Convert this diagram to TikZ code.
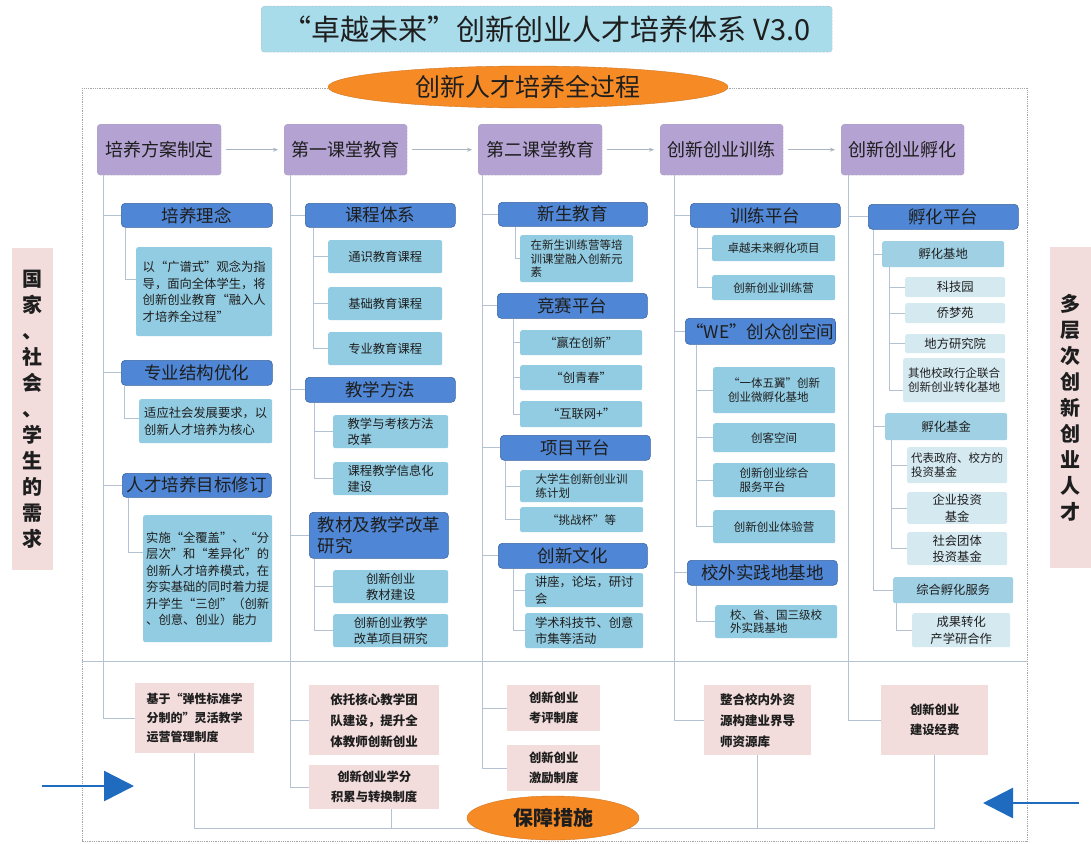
\documentclass[tikz,border=0pt]{standalone}
\usepackage{fontspec}
\setmainfont{Noto Sans CJK SC}
\usetikzlibrary{arrows.meta,shapes.geometric}
\definecolor{titleC}{HTML}{A8DCEB}
\definecolor{orangeC}{HTML}{F68B26}
\definecolor{purpleC}{HTML}{B3A2D2}
\definecolor{blueH}{HTML}{4F87D6}
\definecolor{lightB}{HTML}{92CCE2}
\definecolor{midB}{HTML}{9FD0E4}
\definecolor{paleB}{HTML}{D5E9F1}
\definecolor{pinkC}{HTML}{F2DCDC}
\definecolor{lineC}{HTML}{B4C2D3}
\definecolor{arrowB}{HTML}{1E6BC0}
\definecolor{txtC}{HTML}{1E1E1E}
\tikzset{
  conn/.style={draw=lineC, line width=0.9pt},
  parr/.style={draw=lineC!80!gray, line width=0.9pt, -{Stealth[length=5pt,width=4pt]}, shorten <=5pt, shorten >=6pt},
  titlebox/.style={fill=titleC, draw=gray!70, densely dotted, rounded corners=3pt, font=\fontsize{29}{32}\selectfont, text=txtC, inner sep=0pt},
  ellbox/.style={ellipse, fill=orangeC, draw=orangeC!85!black, inner sep=0pt, text=txtC},
  hdr/.style={fill=purpleC, draw=gray!70, densely dotted, rounded corners=3pt, font=\fontsize{18}{22}\selectfont, text=txtC, inner sep=1pt},
  bh/.style={fill=blueH, draw=blueH!75!black, line width=0.6pt, rounded corners=4pt, font=\fontsize{17.5}{21}\selectfont, text=txtC, inner sep=1pt, align=left},
  sb/.style={fill=lightB, rounded corners=2pt, font=\fontsize{12.3}{16.5}\selectfont, text=txtC, inner sep=2pt, align=left},
  sbs/.style={sb, font=\fontsize{11.5}{13.5}\selectfont},
  mb/.style={sb, fill=midB},
  pb/.style={sb, fill=paleB},
  pk/.style={fill=pinkC, font=\bfseries\fontsize{12.3}{20}\selectfont, text=txtC, inner sep=2pt, align=center},
  pkl/.style={pk, align=left},
  side/.style={fill=pinkC, font=\bfseries\fontsize{20}{26}\selectfont, text=txtC, inner sep=0pt, align=center},
  barrow/.style={draw=arrowB, line width=2.6pt, -{Triangle[length=30pt,width=30pt]}},
}
\newcommand\mkbox[7]{\node[#2,anchor=north west,minimum width={(#5-#3)*1pt},minimum height={(#6-#4)*1pt}] (#1) at (#3pt,-#4pt) {#7};}
\begin{document}
\begin{tikzpicture}[x=1pt,y=1pt]
\useasboundingbox (0,0) rectangle (1091,-843);
\fill[white] (0,0) rectangle (1091,-843);
% frame and divider
\draw[gray!70, densely dotted, line width=0.8pt] (82,-88) rectangle (1027,-841);
\draw[conn] (82,-661) -- (1027,-661);
% title
\mkbox{title}{titlebox}{261}{6}{832}{52}{“卓越未来”创新创业人才培养体系 V3.0}
\node[ellbox, minimum width=400pt, minimum height=42pt, font=\fontsize{25}{28}\selectfont] (proc) at (528,-87) {创新人才培养全过程};
% side boxes
\mkbox{left}{side}{12}{248}{53}{570}{国\\家\\、\\社\\会\\、\\学\\生\\的\\需\\求}
\mkbox{right}{side}{1050}{247}{1091}{568}{多\\层\\次\\创\\新\\创\\业\\人\\才}
% stage headers
\mkbox{h1}{hdr}{97}{124}{221}{175}{培养方案制定}
\mkbox{h2}{hdr}{284}{124}{407}{175}{第一课堂教育}
\mkbox{h3}{hdr}{478}{124}{602}{175}{第二课堂教育}
\mkbox{h4}{hdr}{660}{124}{783}{175}{创新创业训练}
\mkbox{h5}{hdr}{841}{124}{964}{175}{创新创业孵化}
\draw[parr] (h1.east) -- (h2.west);
\draw[parr] (h2.east) -- (h3.west);
\draw[parr] (h3.east) -- (h4.west);
\draw[parr] (h4.east) -- (h5.west);
\coordinate (s1) at (103,-175);
\coordinate (s2) at (290,-175);
\coordinate (s3) at (482,-175);
\coordinate (s4) at (674,-175);
\coordinate (s5) at (848,-175);
% column 1
\mkbox{bl1}{bh}{121}{203}{272}{227}{培养理念}
\mkbox{d1}{sb}{136}{247}{272}{336}{以“广谱式”观念为指\\导，面向全体学生，将\\创新创业教育“融入人\\才培养全过程”}
\mkbox{bl2}{bh}{121}{360}{272}{385}{专业结构优化}
\mkbox{d2}{sb}{139}{399}{272}{443}{适应社会发展要求，以\\创新人才培养为核心}
\mkbox{bl3}{bh}{122}{473}{271}{497}{人才培养目标修订}
\mkbox{d3}{sb}{143}{515}{272}{642}{实施“全覆盖”、“分\\层次”和“差异化”的\\创新人才培养模式，在\\夯实基础的同时着力提\\升学生“三创”（创新\\、创意、创业）能力}
% column 2
\mkbox{bl4}{bh}{305}{203}{455}{227}{课程体系}
\mkbox{c1}{sb}{328}{240}{442}{273}{通识教育课程}
\mkbox{c2}{sb}{328}{287}{442}{320}{基础教育课程}
\mkbox{c3}{sb}{328}{332}{442}{365}{专业教育课程}
\mkbox{bl5}{bh}{305}{377}{455}{402}{教学方法}
\mkbox{c4}{sb}{333}{415}{448}{448}{教学与考核方法\\改革}
\mkbox{c5}{sb}{333}{462}{448}{495}{课程教学信息化\\建设}
\mkbox{bl6}{bh}{309}{512}{448}{558}{教材及教学改革\\研究}
\mkbox{c6}{sb}{333}{570}{448}{603}{创新创业\\教材建设}
\mkbox{c7}{sb}{333}{614}{448}{647}{创新创业教学\\改革项目研究}
% column 3
\mkbox{bl7}{bh}{498}{202}{647}{226}{新生教育}
\mkbox{e1}{sbs}{520}{235}{633}{282}{在新生训练营等培\\训课堂融入创新元\\素}
\mkbox{bl8}{bh}{497}{293}{647}{318}{竞赛平台}
\mkbox{e2}{sb}{520}{330}{642}{355}{“赢在创新”}
\mkbox{e3}{sb}{520}{365}{642}{390}{“创青春”}
\mkbox{e4}{sb}{520}{401}{642}{427}{“互联网+”}
\mkbox{bl9}{bh}{500}{435}{650}{460}{项目平台}
\mkbox{e5}{sbs}{520}{470}{643}{502}{大学生创新创业训\\练计划}
\mkbox{e6}{sbs}{520}{507}{643}{532}{“挑战杯”等}
\mkbox{bl10}{bh}{498}{543}{647}{568}{创新文化}
\mkbox{e7}{sb}{525}{573}{643}{607}{讲座，论坛，研讨\\会}
\mkbox{e8}{sb}{525}{613}{643}{648}{学术科技节、创意\\市集等活动}
% column 4
\mkbox{bl11}{bh}{690}{203}{840}{227}{训练平台}
\mkbox{f1}{sbs}{712}{235}{835}{261}{卓越未来孵化项目}
\mkbox{f2}{sbs}{712}{275}{835}{300}{创新创业训练营}
\mkbox{bl12}{bh}{685}{318}{835}{344}{“WE”创众创空间}
\mkbox{f3}{sbs}{713}{367}{835}{413}{“一体五翼”创新\\创业微孵化基地}
\mkbox{f4}{sbs}{713}{423}{835}{452}{创客空间}
\mkbox{f5}{sbs}{713}{463}{835}{497}{创新创业综合\\服务平台}
\mkbox{f6}{sbs}{713}{510}{835}{543}{创新创业体验营}
\mkbox{bl13}{bh}{687}{560}{837}{585}{校外实践地基地}
\mkbox{f7}{sbs}{715}{605}{837}{638}{校、省、国三级校\\外实践基地}
% column 5
\mkbox{bl14}{bh}{868}{204}{1018}{229}{孵化平台}
\mkbox{g1}{mb}{882}{241}{1004}{267}{孵化基地}
\mkbox{g2}{pb}{905}{277}{1005}{297}{科技园}
\mkbox{g3}{pb}{905}{303}{1005}{323}{侨梦苑}
\mkbox{g4}{pb}{905}{334}{1005}{353}{地方研究院}
\mkbox{g5}{pb, font=\fontsize{11.5}{13.5}\selectfont}{903}{358}{1005}{402}{其他校政行企联合\\创新创业转化基地}
\mkbox{g6}{mb}{885}{413}{1007}{440}{孵化基金}
\mkbox{g7}{pb, font=\fontsize{11.5}{13.5}\selectfont}{907}{447}{1007}{483}{代表政府、校方的\\投资基金}
\mkbox{g8}{pb, align=center}{907}{492}{1007}{523}{企业投资\\基金}
\mkbox{g9}{pb, align=center}{907}{532}{1007}{565}{社会团体\\投资基金}
\mkbox{g10}{mb}{893}{577}{1013}{603}{综合孵化服务}
\mkbox{g11}{pb, align=center}{912}{613}{1010}{647}{成果转化\\产学研合作}
% bottom guarantee boxes
\mkbox{p1}{pkl, font=\bfseries\fontsize{12}{19}\selectfont}{135}{683}{254}{753}{基于“弹性标准学\\分制的”灵活教学\\运营管理制度}
\mkbox{p2}{pk, font=\bfseries\fontsize{12.5}{21}\selectfont}{309}{685}{439}{755}{依托核心教学团\\队建设，提升全\\体教师创新创业}
\mkbox{p3}{pk}{309}{765}{439}{809}{创新创业学分\\积累与转换制度}
\mkbox{p4}{pk}{507}{685}{600}{731}{创新创业\\考评制度}
\mkbox{p5}{pk}{507}{745}{600}{791}{创新创业\\激励制度}
\mkbox{p6}{pkl, font=\bfseries\fontsize{12.5}{21}\selectfont}{704}{685}{811}{755}{整合校内外资\\源构建业界导\\师资源库}
\mkbox{p7}{pk}{881}{685}{988}{755}{创新创业\\建设经费}
% spines
\draw[conn] (s1) |- (p1.west);
\draw[conn] (s1 |- bl1.west) -- (bl1.west);
\draw[conn] (s1 |- bl2.west) -- (bl2.west);
\draw[conn] (s1 |- bl3.west) -- (bl3.west);
\draw[conn] (s2) |- (p3.west);
\draw[conn] (s2 |- bl4.west) -- (bl4.west);
\draw[conn] (s2 |- bl5.west) -- (bl5.west);
\draw[conn] (s2 |- bl6.west) -- (bl6.west);
\draw[conn] (s2 |- p2.west) -- (p2.west);
\draw[conn] (s3) |- (p5.west);
\draw[conn] (s3 |- bl7.west) -- (bl7.west);
\draw[conn] (s3 |- bl8.west) -- (bl8.west);
\draw[conn] (s3 |- bl9.west) -- (bl9.west);
\draw[conn] (s3 |- bl10.west) -- (bl10.west);
\draw[conn] (s3 |- p4.west) -- (p4.west);
\draw[conn] (s4) |- (p6.west);
\draw[conn] (s4 |- bl11.west) -- (bl11.west);
\draw[conn] (s4 |- bl12.west) -- (bl12.west);
\draw[conn] (s4 |- bl13.west) -- (bl13.west);
\draw[conn] (s5) |- (p7.west);
\draw[conn] (s5 |- bl14.west) -- (bl14.west);
% sub-lines
\coordinate (t1) at ([xshift=4pt]bl1.south west);
\draw[conn] (t1) |- ([yshift=12pt]d1.west);
\coordinate (t2) at ([xshift=3pt]bl2.south west);
\draw[conn] (t2) |- ([yshift=3pt]d2.west);
\coordinate (t3) at ([xshift=6pt]bl3.south west);
\draw[conn] (t3) |- ([yshift=26pt]d3.west);
\coordinate (t4) at ([xshift=8pt]bl4.south west);
\draw[conn] (t4) |- (c3.west);
\draw[conn] (t4 |- c1.west) -- (c1.west);
\draw[conn] (t4 |- c2.west) -- (c2.west);
\coordinate (t5) at ([xshift=9pt]bl5.south west);
\draw[conn] (t5) |- (c5.west);
\draw[conn] (t5 |- c4.west) -- (c4.west);
\coordinate (t6) at ([xshift=5pt]bl6.south west);
\draw[conn] (t6) |- (c7.west);
\draw[conn] (t6 |- c6.west) -- (c6.west);
\coordinate (t7) at ([xshift=17pt]bl7.south west);
\draw[conn] (t7) |- (e1.west);
\coordinate (t8) at ([xshift=16pt]bl8.south west);
\draw[conn] (t8) |- (e4.west);
\draw[conn] (t8 |- e2.west) -- (e2.west);
\draw[conn] (t8 |- e3.west) -- (e3.west);
\coordinate (t9) at ([xshift=5pt]bl9.south west);
\draw[conn] (t9) |- (e6.west);
\draw[conn] (t9 |- e5.west) -- (e5.west);
\coordinate (t10) at ([xshift=15pt]bl10.south west);
\draw[conn] (t10) |- (e8.west);
\draw[conn] (t10 |- e7.west) -- (e7.west);
\coordinate (t11) at ([xshift=7pt]bl11.south west);
\draw[conn] (t11) |- (f2.west);
\draw[conn] (t11 |- f1.west) -- (f1.west);
\coordinate (t12) at ([xshift=11pt]bl12.south west);
\draw[conn] (t12) |- (f6.west);
\draw[conn] (t12 |- f3.west) -- (f3.west);
\draw[conn] (t12 |- f4.west) -- (f4.west);
\draw[conn] (t12 |- f5.west) -- (f5.west);
\coordinate (t13) at ([xshift=9pt]bl13.south west);
\draw[conn] (t13) |- (f7.west);
\coordinate (t14) at ([xshift=5pt]bl14.south west);
\draw[conn] (t14) |- (g10.west);
\draw[conn] (t14 |- g1.west) -- (g1.west);
\draw[conn] (t14 |- g6.west) -- (g6.west);
\coordinate (u1) at ([xshift=7pt]g1.south west);
\draw[conn] (u1) |- ([yshift=-10pt]g5.west);
\draw[conn] (u1 |- g2.west) -- (g2.west);
\draw[conn] (u1 |- g3.west) -- (g3.west);
\draw[conn] (u1 |- g4.west) -- (g4.west);
\coordinate (u2) at ([xshift=6pt]g6.south west);
\draw[conn] (u2) |- (g9.west);
\draw[conn] (u2 |- g7.west) -- (g7.west);
\draw[conn] (u2 |- g8.west) -- (g8.west);
\coordinate (u3) at ([xshift=3pt]g10.south west);
\draw[conn] (u3) |- (g11.west);
% bottom collecting line
\coordinate (bline) at (0,-828);
\draw[conn] (p1.south) -- (p1.south |- bline) -- (p7.south |- bline) -- (p7.south);
\coordinate (p3b) at ([xshift=17pt]p3.south);
\draw[conn] (p3b) -- (p3b |- bline);
\draw[conn] (p6.south) -- (p6.south |- bline);
\node[ellbox, minimum width=172pt, minimum height=44pt, font=\bfseries\fontsize{20}{24}\selectfont] (guar) at (553,-818) {保障措施};
% blue arrows
\coordinate (la0) at (42,-786);
\coordinate (la1) at (134,-786);
\draw[barrow] (la0) -- (la1);
\coordinate (ra0) at (1079,-803);
\coordinate (ra1) at (983,-803);
\draw[barrow] (ra0) -- (ra1);
\end{tikzpicture}
\end{document}
